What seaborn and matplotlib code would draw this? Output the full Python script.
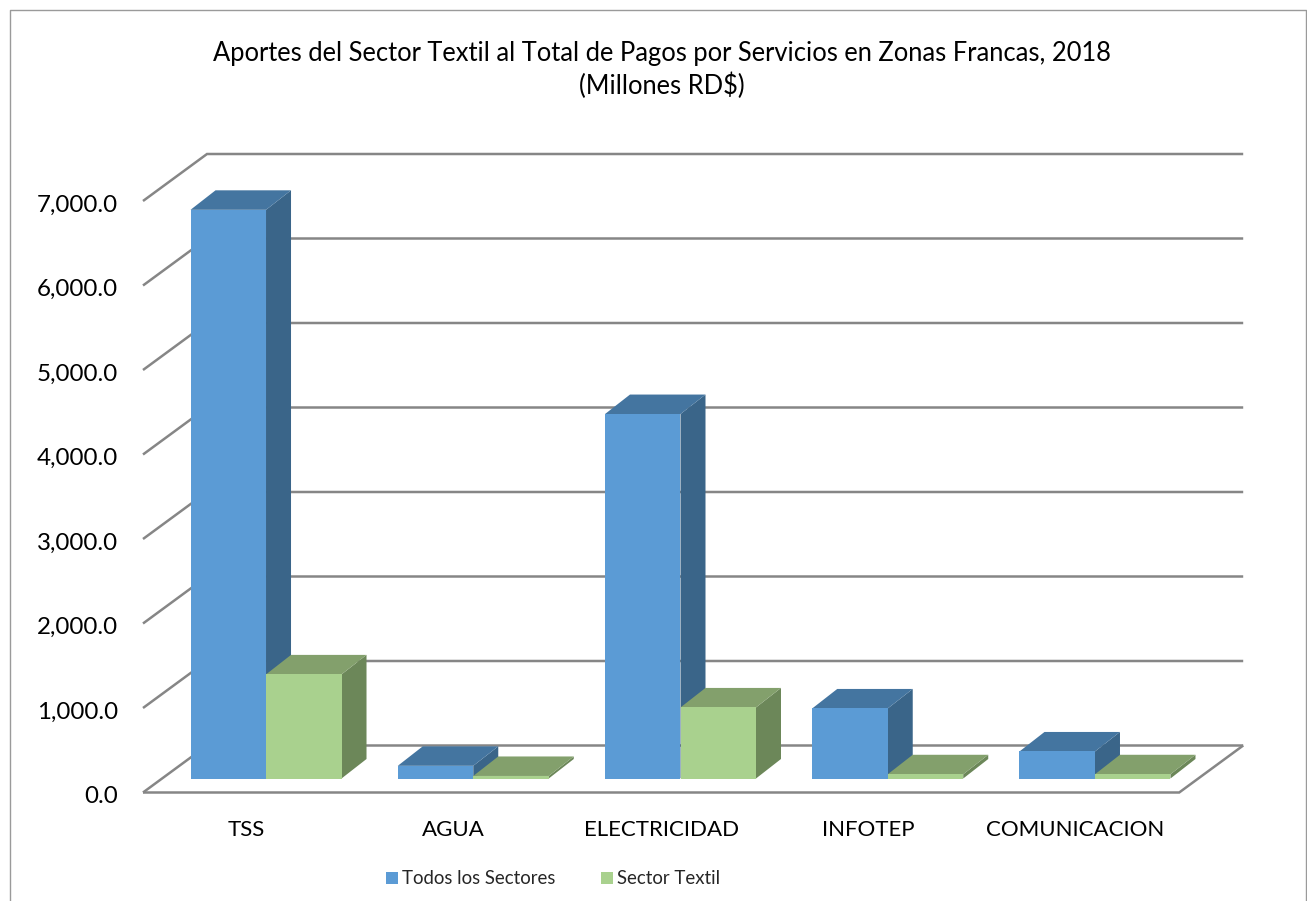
import matplotlib
matplotlib.use("Agg")
import matplotlib.pyplot as plt
import pandas as pd
import seaborn as sns
from matplotlib.lines import Line2D
from matplotlib.patches import Polygon
from matplotlib.transforms import Affine2D, IdentityTransform

# values (millones RD$)
categorias = ["TSS", "AGUA", "ELECTRICIDAD", "INFOTEP", "COMUNICACION"]
todos = [6730, 150, 4313, 829, 320]
textil = [1232, 30, 841, 50, 50]
series = ["Todos los Sectores", "Sector Textil"]
ticks_y = [0, 1000, 2000, 3000, 4000, 5000, 6000, 7000]

W, H = 1307, 901
AZUL, AZUL_TOP, AZUL_SIDE = "#5B9BD5", "#4475A0", "#3A6589"
VERDE, VERDE_TOP, VERDE_SIDE = "#A9D18E", "#83A06C", "#6C8759"
GRIS = "#868686"

df = pd.DataFrame({
    "categoria": categorias * 2,
    "serie": [series[0]] * 5 + [series[1]] * 5,
    "valor": todos + textil,
})

sns.set_theme(style="white")
plt.rcParams["font.family"] = ["Lato", "DejaVu Sans"]

fig = plt.figure(figsize=(W / 100, H / 100), dpi=100, facecolor="white")
# axes = plane of the bars' front faces
ax = fig.add_axes([162.4 / W, (H - 778.5) / H, 1036.2 / W, 591.5 / H])
ax.patch.set_alpha(0)

sns.barplot(data=df, x="categoria", y="valor", hue="serie", ax=ax, width=0.7286,
            palette={series[0]: AZUL, series[1]: VERDE}, saturation=1, gap=0,
            errorbar=None, linewidth=0)
ax.set_xlim(-0.5, 4.5)
ax.set_ylim(0, 7000)
sns.despine(ax=ax, left=True, bottom=True)
ax.set_xlabel("")
ax.set_ylabel("")

# depth offsets in pixels, from the bar plane
FRENTE = (-19.4, -14)
FONDO = (44.6, 33)
PROF = (25, 19.5)
identidad = IdentityTransform()


def px(x, y, off=(0, 0)):
    p = ax.transData.transform((x, y))
    return (p[0] + off[0], p[1] + off[1])


def linea(puntos, z=0.5):
    xs, ys = zip(*puntos)
    fig_line = Line2D(xs, ys, color=GRIS, lw=1.8, transform=identidad, zorder=z,
                      clip_on=False, solid_capstyle="butt", solid_joinstyle="miter")
    ax.add_line(fig_line)


# walls and floor
for t in ticks_y:
    linea([px(-0.5, t, FRENTE), px(-0.5, t, FONDO), px(4.5, t, FONDO)])
linea([px(-0.5, 0, FRENTE), px(4.5, 0, FRENTE), px(4.5, 0, FONDO)])

# side and top faces of every bar
caras = [(AZUL_TOP, AZUL_SIDE), (VERDE_TOP, VERDE_SIDE)]
for i, cont in enumerate(ax.containers):
    top_c, side_c = caras[i]
    for bar in cont:
        bar.set_zorder(3 + 2 * i)
        x0, x1 = bar.get_x(), bar.get_x() + bar.get_width()
        h = bar.get_height()
        lado = [px(x1, 0), px(x1, h), px(x1, h, PROF), px(x1, 0, PROF)]
        arriba = [px(x0, h), px(x1, h), px(x1, h, PROF), px(x0, h, PROF)]
        ax.add_patch(Polygon(lado, closed=True, fc=side_c, ec="none", transform=identidad,
                             zorder=2 + 2 * i, clip_on=False))
        ax.add_patch(Polygon(arriba, closed=True, fc=top_c, ec="none", transform=identidad,
                             zorder=2 + 2 * i, clip_on=False))

# tick labels sit on the front edge of the floor
ax.set_yticks(ticks_y)
ax.set_yticklabels([f"{t:,.1f}" for t in ticks_y])
ax.tick_params(axis="y", length=0, pad=18, labelsize=17.4, labelcolor="black")
ax.tick_params(axis="x", length=0, pad=20, labelsize=16, labelcolor="black")
corrimiento = Affine2D().translate(*FRENTE)
for lab in ax.get_xticklabels():
    lab.set_transform(lab.get_transform() + corrimiento)
    lab.set_verticalalignment("top")
for lab in ax.get_yticklabels():
    lab.set_transform(lab.get_transform() + corrimiento + Affine2D().translate(0, -2))

fig.text(662 / W, 1 - 70 / H, "Aportes del Sector Textil al Total de Pagos por Servicios en Zonas Francas, 2018\n(Millones RD$)",
         ha="center", va="center", fontsize=18.4, color="black", linespacing=1.3)

sns.move_legend(ax, loc="center", bbox_to_anchor=(553 / W, 1 - 879 / H),
                bbox_transform=fig.transFigure, ncol=2, frameon=False, title=None,
                fontsize=13.4, handlelength=0.65, handleheight=0.65, handletextpad=0.2,
                columnspacing=2.45)

# chart frame, cut off at the bottom of the screenshot
marco = [[(9.5, 0), (9.5, H - 10), (1306, H - 10), (1306, 0)]]
for tramo in marco:
    xs, ys = zip(*tramo)
    fig.add_artist(Line2D(xs, ys, color="#9a9a9a", lw=1, transform=identidad))

plt.savefig("out.png", dpi=100)
